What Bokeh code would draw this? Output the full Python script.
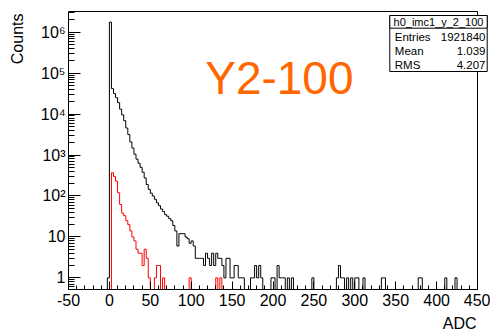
import numpy as np
from bokeh.plotting import figure
from bokeh.models import Range1d, FixedTicker, Label, BoxAnnotation, CustomJSTickFormatter, Title
from bokeh.embed import file_html
from bokeh.resources import INLINE

# ---------------- data ----------------
x_min, x_max, bin_width = -50.0, 450.0, 2.5
y_lo, y_top = 0.52, 3.2e6

# black histogram: consecutive bins starting at black_dense_start
black_dense_start = -2.5
black_dense = [1, 1760000, 41700, 31600, 25100, 19000, 13200, 9550, 6900, 4570,
               3160, 2090, 1480, 1050, 794, 630, 500, 380, 275, 190,
               145, 117, 100, 83, 68, 58, 48, 42, 35, 32,
               28, 25, 19, 14, 6, 12, 12, 12, 10, 9,
               7, 8, 6, 3, 3, 3, 3, 2, 4, 3,
               2, 4, 2, 4, 3, 3, 2, 1, 3, 3,
               1, 1, 2, 2, 1]
# black histogram: isolated tail bins (lower edge, count)
black_tail_x = [160.0, 162.5, 172.5, 175.0, 177.5, 180.0, 182.5, 185.0, 197.5, 200.0,
                205.0, 207.5, 210.0, 212.5, 217.5, 222.5, 247.5, 277.5, 280.0, 282.5,
                285.0, 290.0, 295.0, 300.0, 302.5, 310.0, 332.5, 335.0, 377.5, 380.0,
                410.0, 422.5]
black_tail_n = [1, 1, 1, 1, 2, 1, 2, 1, 1, 1,
                2, 1, 1, 1, 1, 1, 1, 1, 2, 1,
                1, 1, 1, 1, 1, 1, 1, 1, 1, 1,
                1, 1]

# red histogram
red_dense_start = 2.5
red_dense = [370, 300, 230, 120, 62, 38, 33, 25, 20, 14,
             10, 8, 5, 4, 4, 2, 5, 3, 1, 0,
             0, 1, 2, 2, 0, 1]
red_tail_x = [97.5, 130.0, 135.0]
red_tail_n = [1, 1, 1]

x_ticks = [-50, 0, 50, 100, 150, 200, 250, 300, 350, 400, 450]
x_minor = list(range(-50, 451, 10))
y_ticks = [1, 10, 100, 1e3, 1e4, 1e5, 1e6]
y_minor = [0.6, 0.7, 0.8, 0.9] + [m * 10.0 ** e for e in range(0, 7) for m in range(2, 10)]

x_title = "ADC"
y_title = "Counts"
stats_title = "h0_imc1_y_2_100"
stats_names = ["Entries", "Mean", "RMS"]
stats_values = ["1921840", "1.039", "4.207"]
big_label = "Y2-100"

# ---------------- build ----------------
n_bins = int(round((x_max - x_min) / bin_width))
edges = x_min + bin_width * np.arange(n_bins + 1)


def fill(dense_start, dense, tail_x, tail_n):
    counts = np.zeros(n_bins)
    i0 = int(round((dense_start - x_min) / bin_width))
    counts[i0:i0 + len(dense)] = dense
    for x, n in zip(tail_x, tail_n):
        counts[int(round((x - x_min) / bin_width))] = n
    return counts


def step_path(counts, floor):
    y = np.maximum(counts, floor)
    xs = np.concatenate([[edges[0]], np.column_stack([edges[:-1], edges[1:]]).ravel(), [edges[-1]]])
    ys = np.concatenate([[floor], np.repeat(y, 2), [floor]])
    return xs, ys


black = fill(black_dense_start, black_dense, black_tail_x, black_tail_n)
red = fill(red_dense_start, red_dense, red_tail_x, red_tail_n)

FONT = "Liberation Sans"

# plotting area is a little larger than the ROOT frame (room for the stats box)
px_per_unit = 409.0 / (x_max - x_min)
view_x_end = x_max + 12.0 / px_per_unit
decade_px = 278.0 / (np.log10(y_top) - np.log10(y_lo))
view_y_end = 10 ** (np.log10(y_top) + 6.0 / decade_px)

p = figure(width=490, height=331, x_range=Range1d(x_min, view_x_end), y_range=Range1d(y_lo, view_y_end),
           y_axis_type="log", output_backend="svg", toolbar_location=None,
           min_border_left=68, min_border_right=1, min_border_top=5, min_border_bottom=42)
p.xgrid.visible = False
p.ygrid.visible = False
p.outline_line_color = None
p.background_fill_color = "white"
p.border_fill_color = "white"

bx, by = step_path(black, y_lo)
p.line(bx, by, line_color="black", line_width=1)
rx, ry = step_path(red, y_lo)
p.line(rx, ry, line_color="#ff0000", line_width=1)

# ROOT frame: top and right edges
p.segment(x0=[x_min, x_max], y0=[y_top, y_lo], x1=[x_max, x_max], y1=[y_top, y_top],
          line_color="black", line_width=1)

# axes
for ax in (p.xaxis[0], p.yaxis[0]):
    ax.axis_line_color = "black"
    ax.major_tick_line_color = "black"
    ax.minor_tick_line_color = "black"
    ax.major_tick_out = 0
    ax.minor_tick_out = 0
    ax.major_label_text_font = FONT
    ax.major_label_text_font_size = "16px"
    ax.major_label_text_color = "black"
    # tiny blank axis label used only as a spacer before the ROOT-style title
    ax.axis_label = " "
    ax.axis_label_text_font_size = "1px"

p.xaxis.bounds = (x_min, x_max)
p.xaxis.ticker = FixedTicker(ticks=x_ticks, minor_ticks=x_minor)
p.xaxis.major_tick_in = 8
p.xaxis.minor_tick_in = 4
p.xaxis.major_label_standoff = 4
p.xaxis.axis_label_standoff = 0
p.xaxis.formatter = CustomJSTickFormatter(code="return tick.toFixed(0);")

p.yaxis.bounds = (y_lo, y_top)
p.yaxis.ticker = FixedTicker(ticks=y_ticks, minor_ticks=[m for m in y_minor if m < y_top])
p.yaxis.major_tick_in = 12
p.yaxis.minor_tick_in = 6
p.yaxis.major_label_standoff = 3
p.yaxis.axis_label_standoff = 8
p.yaxis.formatter = CustomJSTickFormatter(code="""
const sup = ["\u2070","\u00b9","\u00b2","\u00b3","\u2074","\u2075","\u2076","\u2077","\u2078","\u2079"];
const e = Math.round(Math.log10(tick));
if (e == 0) return "1";
if (e == 1) return "10";
return "10" + sup[e];
""")

# axis titles (ROOT style: aligned at the axis end)
p.add_layout(Title(text=y_title, align="right", offset=8, standoff=0,
                   text_font=FONT, text_font_size="16px", text_font_style="normal",
                   text_color="black"), "left")
p.add_layout(Title(text=x_title, align="right", offset=13, standoff=0,
                   text_font=FONT, text_font_size="16px", text_font_style="normal",
                   text_color="black"), "below")

# big orange label
p.add_layout(Label(x=136.7, y=212, x_units="screen", y_units="screen", text=big_label,
                   text_align="left", text_baseline="middle",
                   text_font=FONT, text_font_size="46px", text_color="#ff6600"))

# stats box (screen units are measured from the plot area's bottom-left)
p.add_layout(BoxAnnotation(left=321.3, right=418.7, top=274, bottom=218,
                           left_units="screen", right_units="screen", top_units="screen", bottom_units="screen",
                           fill_color="white", fill_alpha=1, line_color="black", line_width=1, line_alpha=1))
p.add_layout(BoxAnnotation(left=321.3, right=418.7, top=274, bottom=261.3,
                           left_units="screen", right_units="screen", top_units="screen", bottom_units="screen",
                           fill_color="white", fill_alpha=1, line_color="black", line_width=1, line_alpha=1))
p.add_layout(Label(x=370, y=267.5, x_units="screen", y_units="screen", text=stats_title,
                   text_align="center", text_baseline="middle",
                   text_font=FONT, text_font_size="11px", text_color="black"))
row_y = [252.3, 238.3, 225.0]
for name, val, yy in zip(stats_names, stats_values, row_y):
    p.add_layout(Label(x=326.3, y=yy, x_units="screen", y_units="screen", text=name,
                       text_align="left", text_baseline="middle",
                       text_font=FONT, text_font_size="11.5px", text_color="black"))
    p.add_layout(Label(x=417, y=yy, x_units="screen", y_units="screen", text=val,
                       text_align="right", text_baseline="middle",
                       text_font=FONT, text_font_size="11.5px", text_color="black"))

open("out.html", "w").write(file_html(p, INLINE))
